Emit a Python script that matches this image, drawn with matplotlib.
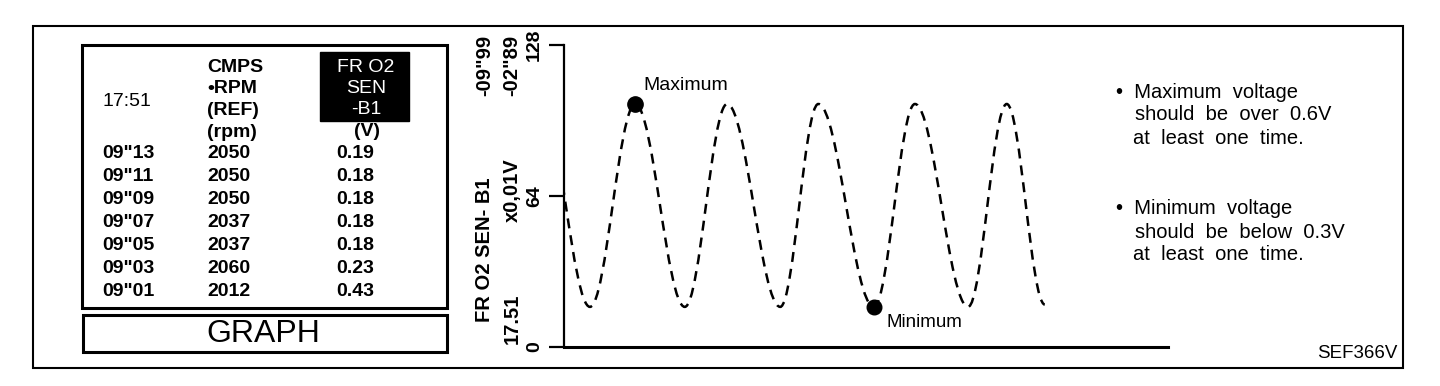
import matplotlib.pyplot as plt
from matplotlib.path import Path
from matplotlib.patches import PathPatch, Rectangle

plt.rcParams['font.family'] = ['Liberation Sans', 'DejaVu Sans']

# freeze-frame table of the data monitor
times = ['09"13', '09"11', '09"09', '09"07', '09"05', '09"03', '09"01']
rpm = [2050, 2050, 2050, 2037, 2037, 2060, 2012]
volts = [0.19, 0.18, 0.18, 0.18, 0.18, 0.23, 0.43]
rpm_head = ['CMPS', '•RPM', '(REF)', '(rpm)']
sen_head = ['FR O2', 'SEN', '-B1']

# O2 sensor trace (x0.01V): turning points,
# the first one lies just left of the axis (trace enters mid-swing)
turn_t = [-3.7, 4.3, 11.8, 20.0, 27.0, 35.8, 42.1, 51.3, 58.1, 66.9, 73.3, 79.6]
turn_v = [103, 17, 103, 17, 103, 17, 103, 17, 103, 17, 103, 18]
max_pt = (11.8, 103)
min_pt = (51.3, 17)

W, H = 1440, 386
fig = plt.figure(figsize=(W / 100, H / 100), dpi=100)

# overlay in pixel coordinates for frames and table
ax0 = fig.add_axes([0, 0, 1, 1], zorder=0)
ax0.set_xlim(0, W)
ax0.set_ylim(H, 0)
ax0.axis('off')

def box(x0, y0, x1, y1, lw, fc='none'):
    ax0.add_patch(Rectangle((x0, y0), x1 - x0, y1 - y0, fill=fc != 'none',
                            facecolor=fc, edgecolor='k', lw=lw))

box(33, 26, 1403, 368, 1.5)
box(82, 45, 447, 308, 2.2)
box(83, 315, 447, 352, 2.2)
box(320, 52, 409, 121, 1, fc='k')

fs = 14
ax0.text(102, 102, '17:51', fontsize=fs, va='center')
for i, s in enumerate(rpm_head):
    ax0.text(207, 67 + i * 21.7, s, fontsize=fs, va='center', fontweight='bold')
for i, s in enumerate(sen_head):
    ax0.text(366, 67 + i * 21.5, s, fontsize=fs, va='center', ha='center', color='w')
ax0.text(367, 132, '(V)', fontsize=fs, va='center', ha='center', fontweight='bold')
for i, (t, r, v) in enumerate(zip(times, rpm, volts)):
    y = 153 + i * 23.1
    ax0.text(102, y, t, fontsize=fs, va='center', fontweight='bold')
    ax0.text(207, y, str(r), fontsize=fs, va='center', fontweight='bold')
    ax0.text(336, y, '%.2f' % v, fontsize=fs, va='center', fontweight='bold')
ax0.text(263, 334, 'GRAPH', fontsize=23, ha='center', va='center')

# rotated axis captions
cap = dict(fontsize=14.5, rotation=90, ha='center', fontweight='bold')
ax0.text(485, 35, '-09"99', va='top', **cap)
ax0.text(485, 250, 'FR O2 SEN- B1', va='center', **cap)
ax0.text(512, 35, '-02"89', va='top', **cap)
ax0.text(512, 190, 'x0,01V', va='center', **cap)
ax0.text(512, 344, '17.51', va='bottom', **cap)

# notes on the right
notes = [('•  Maximum  voltage', 'should  be  over  0.6V', 'at  least  one  time.'),
         ('•  Minimum  voltage', 'should  be  below  0.3V', 'at  least  one  time.')]
for k, lines in enumerate(notes):
    y0 = 92 + k * 117
    ax0.text(1116, y0, lines[0], fontsize=14.5, va='center')
    ax0.text(1135, y0 + 23, lines[1], fontsize=14.5, va='center')
    ax0.text(1133, y0 + 46, lines[2], fontsize=14.5, va='center')
ax0.text(1397, 353, 'SEF366V', fontsize=13.5, ha='right', va='center')

# graph
ax = fig.add_axes([564 / W, (H - 347) / H, (1168 - 564) / W, (347 - 45) / H], zorder=1)
ax.set_facecolor('none')

verts = [(turn_t[0], turn_v[0])]
codes = [Path.MOVETO]
for i in range(len(turn_t) - 1):
    t0, v0, t1, v1 = turn_t[i], turn_v[i], turn_t[i + 1], turn_v[i + 1]
    d = (t1 - t0) * 0.364
    verts += [(t0 + d, v0), (t1 - d, v1), (t1, v1)]
    codes += [Path.CURVE4] * 3
ax.add_patch(PathPatch(Path(verts, codes), fill=False, lw=1.8,
                       linestyle=(0, (4, 2.8)), edgecolor='k'))

ax.plot(*max_pt, 'o', color='k', ms=11)
ax.plot(*min_pt, 'o', color='k', ms=10.5)
ax.annotate('Maximum', max_pt, xytext=(8, 18), textcoords='offset pixels',
            fontsize=14, va='center', ha='left')
ax.annotate('Minimum', min_pt, xytext=(13, -16), textcoords='offset pixels',
            fontsize=13.5, va='center', ha='left')

ax.set_xlim(0, 100)
ax.set_ylim(0, 128)
ax.spines['top'].set_visible(False)
ax.spines['right'].set_visible(False)
ax.spines['left'].set_linewidth(1.6)
ax.spines['bottom'].set_linewidth(2.2)
ax.set_xticks([])
ax.set_yticks([0, 64, 128])
ax.tick_params(axis='y', direction='out', length=11, width=1.6,
               labelrotation=90, labelsize=14, pad=4)
for lab in ax.get_yticklabels():
    lab.set_va('center')
    lab.set_fontweight('bold')

fig.savefig('out.png', dpi=100)
